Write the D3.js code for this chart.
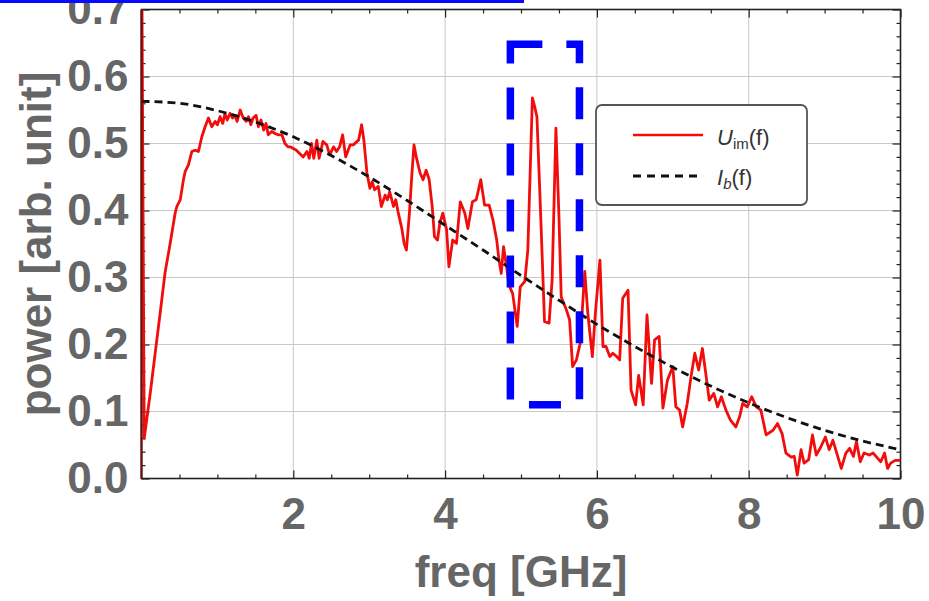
<!DOCTYPE html>
<html>
<head>
<meta charset="utf-8">
<script src="https://cdn.jsdelivr.net/npm/d3@7"></script>
<style>
html, body { margin: 0; padding: 0; background: #fff; }
svg { display: block; font-family: "Liberation Sans", Arial, sans-serif; }
</style>
</head>
<body>
<div id="chart"></div>
<script>
const freq = [
  0.00, 0.036, 0.116, 0.18, 0.246, 0.31, 0.378, 0.443, 0.466, 0.51,
  0.553, 0.575, 0.618, 0.663, 0.707, 0.75, 0.795, 0.838, 0.882, 0.926,
  0.97, 1.0, 1.035, 1.07, 1.10, 1.13, 1.167, 1.2, 1.23, 1.26,
  1.30, 1.34, 1.38, 1.41, 1.44, 1.47, 1.51, 1.54, 1.575, 1.61,
  1.64, 1.67, 1.716, 1.76, 1.80, 1.85, 1.89, 1.93, 1.96, 2.04,
  2.13, 2.18, 2.21, 2.24, 2.27, 2.31, 2.34, 2.39, 2.44, 2.48,
  2.53, 2.57, 2.61, 2.65, 2.69, 2.75, 2.79, 2.86, 2.90, 2.93,
  2.97, 3.01, 3.04, 3.07, 3.12, 3.16, 3.21, 3.24, 3.27, 3.32,
  3.35, 3.38, 3.43, 3.46, 3.49, 3.53, 3.56, 3.59, 3.62, 3.67,
  3.71, 3.75, 3.79, 3.83, 3.86, 3.90, 3.93, 3.97, 4.02, 4.05,
  4.10, 4.15, 4.20, 4.26, 4.30, 4.36, 4.41, 4.47, 4.52, 4.58,
  4.63, 4.68, 4.71, 4.74, 4.77, 4.81, 4.84, 4.89, 4.95, 4.99,
  5.05, 5.09, 5.15, 5.18, 5.21, 5.26, 5.31, 5.37, 5.41, 5.46,
  5.50, 5.53, 5.60, 5.64, 5.68, 5.73, 5.78, 5.84, 5.88, 5.94,
  5.98, 6.04, 6.08, 6.12, 6.17, 6.21, 6.26, 6.30, 6.34, 6.41,
  6.45, 6.51, 6.55, 6.61, 6.66, 6.72, 6.76, 6.82, 6.87, 6.93,
  7.00, 7.04, 7.09, 7.13, 7.19, 7.24, 7.29, 7.34, 7.39, 7.44,
  7.48, 7.54, 7.59, 7.64, 7.70, 7.76, 7.83, 7.88, 7.92, 7.98,
  8.04, 8.10, 8.16, 8.23, 8.32, 8.38, 8.44, 8.49, 8.56, 8.60,
  8.64, 8.69, 8.73, 8.79, 8.84, 8.89, 8.95, 9.01, 9.06, 9.11,
  9.16, 9.22, 9.28, 9.33, 9.38, 9.42, 9.47, 9.52, 9.59, 9.64,
  9.70, 9.74, 9.79, 9.83, 9.87, 9.93, 10.0
];
const power = [
  0.85, 0.060, 0.128, 0.187, 0.247, 0.307, 0.351, 0.396, 0.406, 0.416,
  0.446, 0.458, 0.468, 0.488, 0.490, 0.488, 0.510, 0.525, 0.538, 0.525,
  0.533, 0.528, 0.540, 0.530, 0.545, 0.535, 0.545, 0.538, 0.542, 0.533,
  0.550, 0.538, 0.533, 0.540, 0.528, 0.538, 0.542, 0.525, 0.535, 0.520,
  0.530, 0.513, 0.518, 0.515, 0.513, 0.513, 0.500, 0.495, 0.495, 0.490,
  0.480, 0.488, 0.478, 0.500, 0.478, 0.505, 0.478, 0.503, 0.498, 0.483,
  0.495, 0.488, 0.495, 0.513, 0.480, 0.498, 0.498, 0.505, 0.528, 0.505,
  0.456, 0.433, 0.443, 0.431, 0.436, 0.406, 0.423, 0.416, 0.428, 0.406,
  0.416, 0.398, 0.373, 0.351, 0.341, 0.396, 0.450, 0.498, 0.480, 0.456,
  0.446, 0.460, 0.446, 0.406, 0.361, 0.356, 0.381, 0.396, 0.371, 0.316,
  0.356, 0.351, 0.413, 0.396, 0.373, 0.413, 0.416, 0.446, 0.408, 0.408,
  0.386, 0.356, 0.326, 0.306, 0.346, 0.316, 0.289, 0.276, 0.227, 0.286,
  0.294, 0.341, 0.568, 0.555, 0.540, 0.391, 0.234, 0.232, 0.296, 0.523,
  0.391, 0.271, 0.251, 0.237, 0.167, 0.177, 0.202, 0.309, 0.247, 0.182,
  0.247, 0.326, 0.197, 0.197, 0.182, 0.187, 0.182, 0.177, 0.269, 0.281,
  0.132, 0.110, 0.154, 0.110, 0.244, 0.142, 0.207, 0.212, 0.105, 0.147,
  0.167, 0.107, 0.102, 0.077, 0.112, 0.152, 0.187, 0.162, 0.194, 0.152,
  0.117, 0.127, 0.107, 0.122, 0.102, 0.087, 0.077, 0.092, 0.112, 0.107,
  0.122, 0.107, 0.102, 0.065, 0.072, 0.082, 0.067, 0.038, 0.032, 0.033,
  0.005, 0.043, 0.023, 0.028, 0.065, 0.035, 0.047, 0.062, 0.043, 0.057,
  0.038, 0.015, 0.038, 0.045, 0.033, 0.055, 0.025, 0.038, 0.035, 0.038,
  0.030, 0.025, 0.038, 0.015, 0.023, 0.027, 0.027
];

// I_b(f): smooth reference curve, read every 0.5 GHz
const ibFreq = [0, 0.5, 1, 1.5, 2, 2.5, 3, 3.5, 4, 4.5, 5, 5.5, 6, 6.5, 7, 7.5, 8, 8.5, 9, 9.5, 10];
const ibPower = [0.563, 0.560, 0.549, 0.532, 0.510, 0.482, 0.450, 0.415, 0.378, 0.341, 0.303,
  0.266, 0.230, 0.197, 0.166, 0.138, 0.113, 0.091, 0.072, 0.056, 0.043];

const xTicks = [2, 4, 6, 8, 10];
const yTicks = [0, 0.1, 0.2, 0.3, 0.4, 0.5, 0.6, 0.7];
const xGrid = [2, 4, 6, 8];
const yGrid = [0.1, 0.2, 0.3, 0.4, 0.5, 0.6];

// highlighted region (GHz, power)
const boxFreq = [4.86, 5.77];
const boxPower = [0.11, 0.648];

const W = 929, H = 601;
const margin = { top: 9.5, right: 28.5, bottom: 122.5, left: 141.5 };
const w = W - margin.left - margin.right;
const h = H - margin.top - margin.bottom;
const labelColor = '#666';
const frameColor = '#222';
const red = '#f20d0d';

const svg = d3.select('#chart').append('svg')
  .attr('width', W)
  .attr('height', H)
  .attr('viewBox', [0, 0, W, H]);

const x = d3.scaleLinear().domain([0, 10]).range([0, w]);
const y = d3.scaleLinear().domain([0, 0.7]).range([h, 0]);

const plot = svg.append('g')
  .attr('transform', `translate(${margin.left},${margin.top})`);

svg.append('defs').append('clipPath').attr('id', 'clip')
  .append('rect').attr('width', w).attr('height', h);

// grid
plot.append('g').selectAll('line').data(xGrid).enter().append('line')
  .attr('x1', d => x(d)).attr('x2', d => x(d))
  .attr('y1', 0).attr('y2', h)
  .attr('stroke', '#c8c8c8').attr('stroke-width', 1);
plot.append('g').selectAll('line').data(yGrid).enter().append('line')
  .attr('y1', d => y(d)).attr('y2', d => y(d))
  .attr('x1', 0).attr('x2', w)
  .attr('stroke', '#c8c8c8').attr('stroke-width', 1);

const styleAxis = g => {
  g.select('.domain').remove();
  g.selectAll('line').attr('stroke', frameColor).attr('stroke-width', 1.2);
  g.attr('font-size', 44).attr('font-weight', 'bold')
    .attr('font-family', '"Liberation Sans", Arial, sans-serif');
  g.selectAll('text').attr('fill', labelColor);
};

const xMinor = d3.range(0.5, 10, 0.5).filter(d => d % 2);
const yMinor = d3.range(0.02, 0.7, 0.02).filter(d => Math.abs(d * 10 - Math.round(d * 10)) > 1e-6);

// bottom
plot.append('g').attr('transform', `translate(0,${h})`)
  .call(d3.axisBottom(x).tickValues(xTicks).tickSize(-8).tickPadding(19).tickFormat(d3.format('d')))
  .call(styleAxis);
plot.append('g').attr('transform', `translate(0,${h})`)
  .call(d3.axisBottom(x).tickValues(xMinor).tickSize(-4).tickFormat(''))
  .call(styleAxis);
// top
plot.append('g')
  .call(d3.axisTop(x).tickValues(xTicks).tickSize(-8).tickFormat(''))
  .call(styleAxis);
plot.append('g')
  .call(d3.axisTop(x).tickValues(xMinor).tickSize(-4).tickFormat(''))
  .call(styleAxis);
// left
plot.append('g')
  .call(d3.axisLeft(y).tickValues(yTicks).tickSize(-8).tickPadding(13).tickFormat(d3.format('.1f')))
  .call(styleAxis);
plot.append('g')
  .call(d3.axisLeft(y).tickValues(yMinor).tickSize(-4).tickFormat(''))
  .call(styleAxis);
// right
plot.append('g').attr('transform', `translate(${w},0)`)
  .call(d3.axisRight(y).tickValues(yTicks).tickSize(-8).tickFormat(''))
  .call(styleAxis);
plot.append('g').attr('transform', `translate(${w},0)`)
  .call(d3.axisRight(y).tickValues(yMinor).tickSize(-4).tickFormat(''))
  .call(styleAxis);

// frame (left edge tinted by the red trace running along it)
plot.append('rect')
  .attr('width', w).attr('height', h)
  .attr('fill', 'none')
  .attr('stroke', frameColor)
  .attr('stroke-width', 1.6);

// data
const lines = plot.append('g').attr('clip-path', 'url(#clip)');
lines.append('path')
  .datum(d3.zip(freq, power))
  .attr('fill', 'none')
  .attr('stroke', red)
  .attr('stroke-width', 2.8)
  .attr('stroke-linejoin', 'round')
  .attr('d', d3.line().x(d => x(d[0])).y(d => y(d[1])));
lines.append('path')
  .datum(d3.zip(ibFreq, ibPower))
  .attr('fill', 'none')
  .attr('stroke', '#111')
  .attr('stroke-width', 2.8)
  .attr('stroke-dasharray', '8,5')
  .attr('d', d3.line().curve(d3.curveMonotoneX).x(d => x(d[0])).y(d => y(d[1])));

// left frame line drawn over the trace, dark red as in the figure
plot.append('line')
  .attr('x1', 0).attr('x2', 0).attr('y1', 0).attr('y2', h)
  .attr('stroke', '#6b0f0f').attr('stroke-width', 2.2);

// axis titles
svg.append('text')
  .attr('x', margin.left + w / 2)
  .attr('y', 587)
  .attr('text-anchor', 'middle')
  .attr('font-size', 44).attr('font-weight', 'bold')
  .attr('fill', labelColor)
  .text('freq [GHz]');
svg.append('text')
  .attr('transform', `translate(51,${margin.top + h / 2}) rotate(-90)`)
  .attr('text-anchor', 'middle')
  .attr('font-size', 44).attr('font-weight', 'bold')
  .attr('fill', labelColor)
  .text('power [arb. unit]');

// highlight box
plot.append('rect')
  .attr('x', x(boxFreq[0]))
  .attr('y', y(boxPower[1]))
  .attr('width', x(boxFreq[1]) - x(boxFreq[0]))
  .attr('height', y(boxPower[0]) - y(boxPower[1]))
  .attr('fill', 'none')
  .attr('stroke', '#0000ff')
  .attr('stroke-width', 7.5)
  .attr('stroke-dasharray', '32,24');

// legend
const legend = svg.append('g').attr('transform', 'translate(596,105)');
legend.append('rect')
  .attr('width', 211).attr('height', 100).attr('rx', 6)
  .attr('fill', '#fff').attr('stroke', '#555').attr('stroke-width', 1.8);
legend.append('line')
  .attr('x1', 37).attr('x2', 107).attr('y1', 30).attr('y2', 30)
  .attr('stroke', red).attr('stroke-width', 2.6);
legend.append('line')
  .attr('x1', 37).attr('x2', 107).attr('y1', 71).attr('y2', 71)
  .attr('stroke', '#111').attr('stroke-width', 2.8).attr('stroke-dasharray', '8,6');
const t1 = legend.append('text').attr('x', 121).attr('y', 40)
  .attr('font-size', 22).attr('fill', '#333');
t1.append('tspan').attr('font-style', 'italic').text('U');
t1.append('tspan').attr('font-size', 15).attr('dy', 4).text('im');
t1.append('tspan').attr('dy', -4).text('(f)');
const t2 = legend.append('text').attr('x', 121).attr('y', 80)
  .attr('font-size', 22).attr('fill', '#333');
t2.append('tspan').attr('font-style', 'italic').text('I');
t2.append('tspan').attr('font-style', 'italic').attr('font-size', 15).attr('dy', 4).text('b');
t2.append('tspan').attr('dy', -4).text('(f)');

// blue rule along the top edge
svg.append('line')
  .attr('x1', 0).attr('x2', 524).attr('y1', 1.5).attr('y2', 1.5)
  .attr('stroke', '#0a0aff').attr('stroke-width', 3);
</script>
</body>
</html>
